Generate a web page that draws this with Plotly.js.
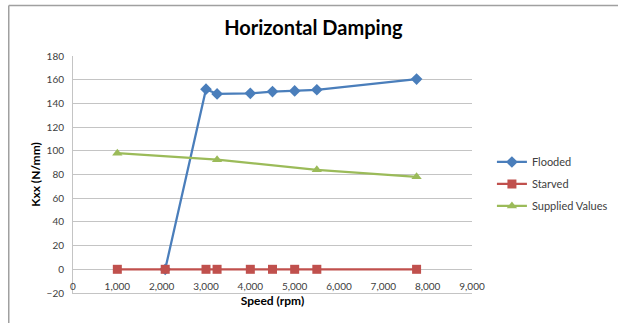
<!DOCTYPE html>
<html>
<head>
<meta charset="utf-8">
<script src="https://cdn.plot.ly/plotly-3.0.1.min.js"></script>
<style>
html,body{margin:0;padding:0;background:#fff;}
#chart{width:618px;height:323px;}
</style>
</head>
<body>
<div id="chart"></div>
<script>
// Data
const floodedSpeed = [2080, 3000, 3250, 4000, 4500, 5000, 5500, 7750];
const floodedKxx   = [0, 152, 148, 148.5, 150, 150.5, 151.5, 160.5];
const starvedSpeed = [1000, 2080, 3000, 3250, 4000, 4500, 5000, 5500, 7750];
const starvedKxx   = [0, 0, 0, 0, 0, 0, 0, 0, 0];
const suppliedSpeed = [1000, 3250, 5500, 7750];
const suppliedKxx   = [98, 92.5, 84, 78];
const seriesNames = ["Flooded", "Starved", "Supplied Values"];
const xTicks = [0, 1000, 2000, 3000, 4000, 5000, 6000, 7000, 8000, 9000];
const yTicks = [-20, 0, 20, 40, 60, 80, 100, 120, 140, 160, 180];

const FONT = "Lato, 'Liberation Sans', sans-serif";
const GRID = "#c4c4c4";

const traces = [
  {x: floodedSpeed, y: floodedKxx, name: seriesNames[0], mode: "lines+markers", legendgroup: "g1",
   line: {color: "#4A7EBB", width: 2.25}, marker: {symbol: "diamond", size: 9, color: "#4A7EBB"}},
  {x: starvedSpeed, y: starvedKxx, name: seriesNames[1], mode: "lines+markers", legendgroup: "g2",
   line: {color: "#C0504D", width: 2.25}, marker: {symbol: "square", size: 9, color: "#C0504D"}},
  {x: suppliedSpeed, y: suppliedKxx, name: seriesNames[2], mode: "lines+markers", legendgroup: "g3",
   line: {color: "#9BBB59", width: 2.25}, marker: {symbol: "triangle-up", size: 9, color: "#9BBB59"}}
];

const layout = {
  width: 618, height: 323,
  margin: {l: 73, r: 146, t: 56, b: 30},
  paper_bgcolor: "#fff", plot_bgcolor: "#fff",
  font: {family: FONT, size: 10, color: "#404040"},
  title: {text: "<b>Horizontal Damping</b>", font: {family: FONT, size: 20, color: "#000"},
          x: 0.507, xanchor: "center", y: 0.912, yanchor: "middle", xref: "container", yref: "container"},
  xaxis: {
    range: [0, 9000], tickvals: xTicks, tickformat: ",d",
    ticklabelposition: "inside", ticklabeloverflow: "allow",
    showgrid: false, zeroline: false, showline: true, linecolor: GRID, linewidth: 1,
    ticks: "", tickfont: {family: FONT, size: 10, color: "#404040"},
    title: {text: "<b>Speed (rpm)</b>", font: {family: FONT, size: 12, color: "#000"}, standoff: 5}
  },
  yaxis: {
    range: [-20, 180], tickvals: yTicks,
    showgrid: true, gridcolor: GRID, gridwidth: 1, zeroline: false,
    showline: true, linecolor: GRID, linewidth: 1,
    ticks: "outside", ticklen: 6, tickcolor: "rgba(0,0,0,0)",
    tickfont: {family: FONT, size: 10, color: "#404040"},
    title: {text: "<b>Kxx (N/mm)</b>", font: {family: FONT, size: 12, color: "#000"}, standoff: 3}
  },
  legend: {xref: "container", x: 0.796, y: 0.46, xanchor: "left", yanchor: "middle",
           font: {family: FONT, size: 11, color: "#404040"}, itemwidth: 30, tracegroupgap: 3},
  showlegend: true,
  shapes: [
    {type: "line", xref: "paper", yref: "paper", x0: -0.161, x1: 2, y0: 1.213, y1: 1.213,
     line: {color: "#a0a0a0", width: 1.5}},
    {type: "line", xref: "paper", yref: "paper", x0: -0.161, x1: -0.161, y0: 1.213, y1: -1,
     line: {color: "#a0a0a0", width: 1.5}}
  ]
};

Plotly.newPlot("chart", traces, layout, {displayModeBar: false, staticPlot: true});
</script>
</body>
</html>
